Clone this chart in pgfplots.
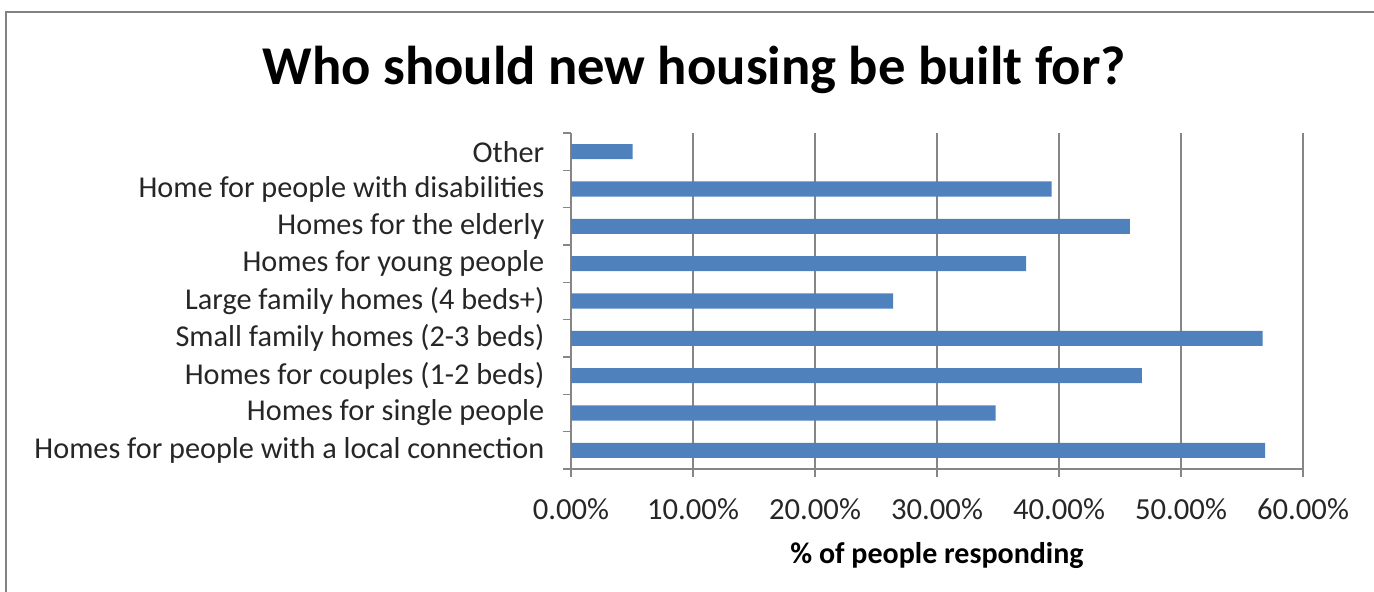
\documentclass[border=0pt]{standalone}
\usepackage{fontspec}
\setmainfont{Carlito}
\usepackage{pgfplots}
\pgfplotsset{compat=1.18}
\definecolor{barblue}{RGB}{79,129,189}
\definecolor{gridgray}{RGB}{134,134,134}
\definecolor{framegray}{RGB}{130,130,130}
\begin{document}
\begin{tikzpicture}[x=0.75pt,y=0.75pt]
\useasboundingbox (0,0) rectangle (1374,592);
\begin{scope}
\clip (0,0) rectangle (1374,592);
\draw[framegray,line width=2.2pt] (6,-10) -- (6,580) -- (1390,580);
\end{scope}
\node[font=\bfseries\fontsize{41}{46}\selectfont] at (694,522) {Who should new housing be built for?};
\begin{axis}[
  at={(428.25pt,92.25pt)}, anchor=south west,
  scale only axis, width=549pt, height=252pt,
  xmin=0, xmax=60, ymin=-0.5, ymax=8.5,
  xbar, bar width=11.3pt,
  axis x line*=bottom, axis y line*=left,
  axis line style={gridgray, line width=0.8pt},
  xtick={0,10,20,30,40,50,60},
  xticklabels={0.00\%,10.00\%,20.00\%,30.00\%,40.00\%,50.00\%,60.00\%},
  xmajorgrids, major grid style={gridgray, line width=0.8pt},
  ytick={0,...,8},
  yticklabels={Homes for people with a local connection,Homes for single people,Homes for couples (1-2 beds),Small family homes (2-3 beds),Large family homes (4 beds+),Homes for young people,Homes for the elderly,Home for people with disabilities,Other},
  minor ytick={-0.5,0.5,...,8.5},
  major y tick style={draw=none},
  minor tick length=6pt,
  tick align=outside,
  x tick style={gridgray, line width=0.8pt},
  minor y tick style={gridgray, line width=0.8pt},
  major tick length=6pt,
  yticklabel style={font=\fontsize{22.7}{24}\selectfont, text=black!85, xshift=-10.5pt},
  xticklabel style={font=\fontsize{23}{25}\selectfont, text=black!85, yshift=-12.5pt},
  xlabel={\textbf{\% of people responding}},
  xlabel style={font=\fontsize{22.5}{25}\selectfont, yshift=-10pt},
]
\addplot[fill=barblue, draw=none] coordinates {
(56.9,0) (34.8,1) (46.8,2) (56.7,3) (26.4,4) (37.3,5) (45.8,6) (39.4,7) (5.06,8)};
\end{axis}
\end{tikzpicture}
\end{document}
